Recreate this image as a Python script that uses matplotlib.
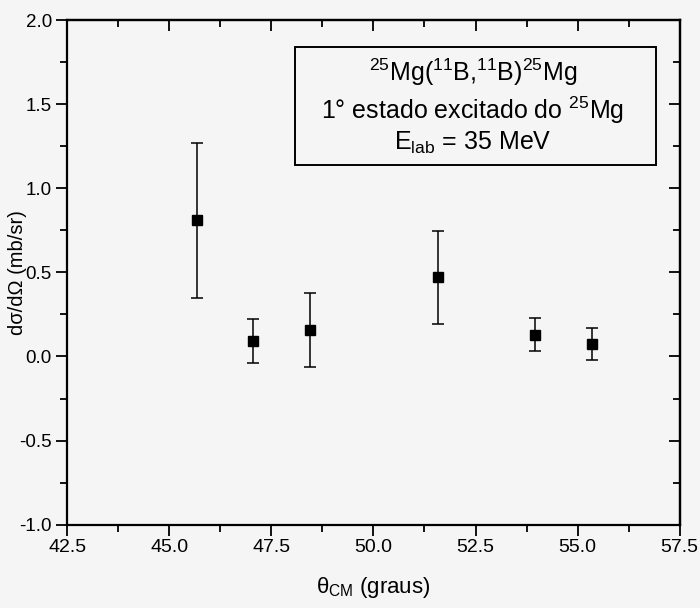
import matplotlib
matplotlib.use("Agg")
import matplotlib.pyplot as plt
from matplotlib.ticker import MultipleLocator

plt.rcParams['font.family'] = ['Liberation Sans', 'DejaVu Sans']
plt.rcParams['mathtext.fontset'] = 'custom'
plt.rcParams['mathtext.rm'] = 'Liberation Sans'
plt.rcParams['mathtext.it'] = 'Liberation Sans'

theta = [45.68, 47.06, 48.44, 51.57, 53.96, 55.34]
sigma = [0.81, 0.09, 0.16, 0.47, 0.13, 0.075]
err = [0.46, 0.13, 0.22, 0.275, 0.10, 0.094]
xticks = [42.5, 45.0, 47.5, 50.0, 52.5, 55.0, 57.5]
yticks = [-1.0, -0.5, 0.0, 0.5, 1.0, 1.5, 2.0]

bg = '#f5f5f5'
fig = plt.figure(figsize=(7.0, 6.08), dpi=100, facecolor=bg)
ax = fig.add_axes([0.096, 0.137, 0.875, 0.830], facecolor=bg)

ax.errorbar(theta, sigma, yerr=err, fmt='s', color='black', ms=7,
            elinewidth=1.1, capsize=4, capthick=1.1)

ax.set_xlim(42.5, 57.5)
ax.set_ylim(-1.0, 2.0)
ax.set_xticks(xticks)
ax.set_yticks(yticks)
ax.set_xticklabels([f'{v:.1f}' for v in xticks])
ax.set_yticklabels([f'{v:.1f}' for v in yticks])
ax.xaxis.set_minor_locator(MultipleLocator(1.25))
ax.yaxis.set_minor_locator(MultipleLocator(0.25))
ax.tick_params(which='major', direction='out', length=8, width=1.3, pad=3)
ax.tick_params(axis='x', which='major', labelsize=14, pad=2)
ax.tick_params(axis='y', which='major', labelsize=13.5)
ax.tick_params(which='minor', direction='out', length=5, width=1.3)
for s in ax.spines.values():
    s.set_linewidth(1.6)

# inward ticks on top and right
top = ax.secondary_xaxis('top')
top.set_xticks(xticks)
top.xaxis.set_minor_locator(MultipleLocator(1.25))
top.tick_params(which='major', direction='in', length=8, width=1.3, labeltop=False)
top.tick_params(which='minor', direction='in', length=5, width=1.3)
right = ax.secondary_yaxis('right')
right.set_yticks(yticks)
right.yaxis.set_minor_locator(MultipleLocator(0.25))
right.tick_params(which='major', direction='in', length=8, width=1.3, labelright=False)
right.tick_params(which='minor', direction='in', length=5, width=1.3)
for sec in (top, right):
    for s in sec.spines.values():
        s.set_linewidth(1.6)

ax.set_xlabel(r'$\theta_{\mathrm{CM}}$ (graus)', fontsize=16)
ax.xaxis.set_label_coords(0.5, -0.100)
ax.set_ylabel('dσ/dΩ (mb/sr)', fontsize=14.5)
ax.yaxis.set_label_coords(-0.066, 0.5)

# annotation box
box = plt.Rectangle((0.372, 0.713), 0.59, 0.234, transform=ax.transAxes,
                    fill=False, edgecolor='black', linewidth=1.4)
ax.add_patch(box)
cx = 0.372 + 0.59 / 2 - 0.005
ax.text(cx, 0.897, r'$^{25}$Mg($^{11}$B,$^{11}$B)$^{25}$Mg', transform=ax.transAxes,
        ha='center', va='center', fontsize=18)
ax.text(cx, 0.822, r'1° estado excitado do $^{25}$Mg', transform=ax.transAxes,
        ha='center', va='center', fontsize=18)
ax.text(cx, 0.756, r'E$_{\mathrm{lab}}$ = 35 MeV', transform=ax.transAxes,
        ha='center', va='center', fontsize=18)

fig.savefig('out.png', dpi=100, facecolor=bg)
